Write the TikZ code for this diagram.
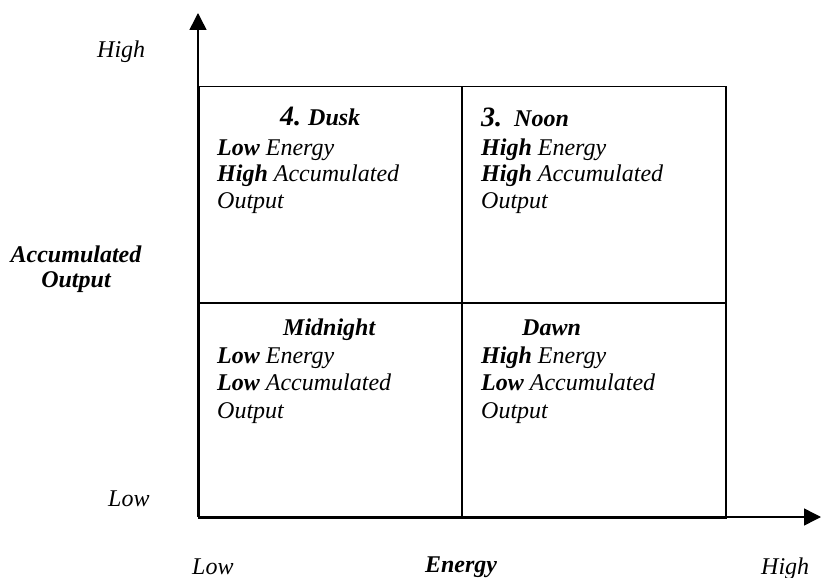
\documentclass[tikz,border=0pt]{standalone}
\usepackage{fontspec}
\setmainfont{Liberation Serif}
\usetikzlibrary{arrows.meta}
\begin{document}
\begin{tikzpicture}[x=1pt,y=-1pt,
  txt/.style={anchor=base west, inner sep=0pt, font=\fontsize{24}{27}\selectfont\itshape},
  hd/.style={txt, font=\fontsize{24}{27}\selectfont\bfseries\itshape},
  num/.style={txt, font=\fontsize{28}{30}\selectfont\bfseries\itshape},
  ctr/.style={txt, anchor=base},
  cell/.style={draw, line width=1.5pt, inner sep=0pt, anchor=north west},
  axis/.style={line width=1.5pt, -{Triangle[length=17pt,width=17pt]}}]
\useasboundingbox (0,0) rectangle (823,578);

% quadrants
\node[cell, minimum width=263pt, minimum height=216pt] (q4) at (198,86) {};
\node[cell, minimum width=264pt, minimum height=216pt] (q3) at (461,86) {};
\node[cell, minimum width=263pt, minimum height=215pt] (q1) at (198,302) {};
\node[cell, minimum width=264pt, minimum height=215pt] (q2) at (461,302) {};

% axes
\coordinate (O) at (198,517);
\coordinate (ytip) at (198,13);
\coordinate (xtip) at (821,517);
\draw[axis] (O) -- (ytip);
\draw[axis] (O) -- (xtip);

% axis labels
\node[txt] (yhigh) at (97,58) {High};
\node[txt] (ylow) at (108,506) {Low};
\node[ctr, font=\fontsize{24}{27}\selectfont\bfseries\itshape] (yname1) at (76,262) {Accumulated};
\node[ctr, font=\fontsize{24}{27}\selectfont\bfseries\itshape] (yname2) at (76,287) {Output};
\node[txt] (xlow) at (192,574) {Low};
\node[ctr, font=\fontsize{24}{27}\selectfont\bfseries\itshape] (xname) at (461,572) {Energy};
\node[txt] (xhigh) at (761,574) {High};

% 4. Dusk
\node[num] (n4) at (280,125) {4.};
\node[hd] (t4) at (308,125) {Dusk};
\node[txt] (a4) at (217,155) {\textbf{Low} Energy};
\node[txt] (b4) at (217,182) {\textbf{High} Accumulated};
\node[txt] (c4) at (217,208) {Output};

% 3. Noon
\node[num] (n3) at (481,126) {3.};
\node[hd] (t3) at (514,126) {Noon};
\node[txt] (a3) at (481,155) {\textbf{High} Energy};
\node[txt] (b3) at (481,182) {\textbf{High} Accumulated};
\node[txt] (c3) at (481,208) {Output};

% Midnight
\node[hd] (t1) at (283,335) {Midnight};
\node[txt] (a1) at (217,363) {\textbf{Low} Energy};
\node[txt] (b1) at (217,390) {\textbf{Low} Accumulated};
\node[txt] (c1) at (217,418) {Output};

% Dawn
\node[hd] (t2) at (522,335) {Dawn};
\node[txt] (a2) at (481,363) {\textbf{High} Energy};
\node[txt] (b2) at (481,390) {\textbf{Low} Accumulated};
\node[txt] (c2) at (481,418) {Output};
\end{tikzpicture}
\end{document}
